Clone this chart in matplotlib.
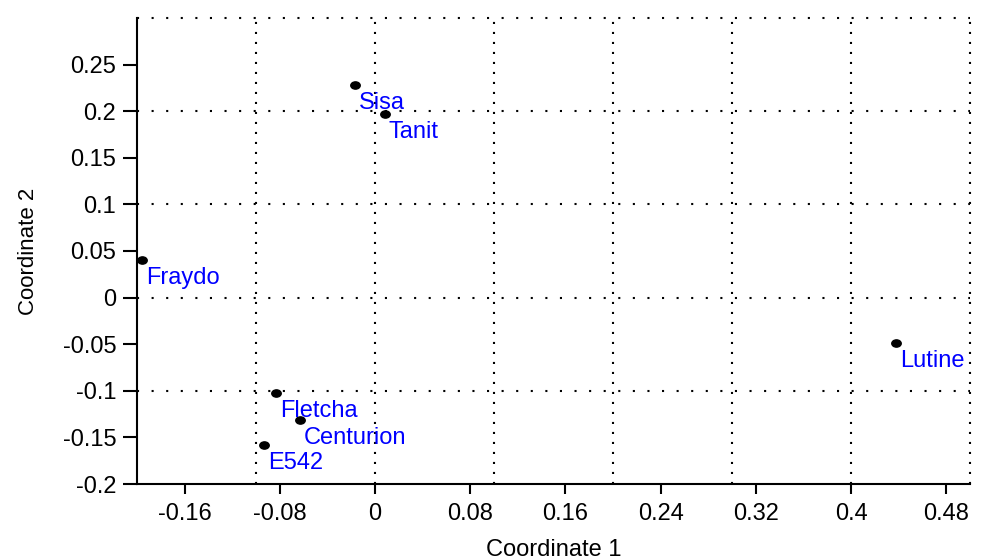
import numpy as np
import matplotlib
matplotlib.use("Agg")
import matplotlib.pyplot as plt
from matplotlib.path import Path
from matplotlib.transforms import Affine2D

plt.rcParams["font.family"] = ["Liberation Sans", "DejaVu Sans"]

# MDS coordinates of the varieties
names = ["Fraydo", "Sisa", "Tanit", "Lutine", "Fletcha", "Centurion", "E542"]
coord1 = [-0.196, -0.017, 0.008, 0.438, -0.083, -0.063, -0.093]
coord2 = [0.040, 0.228, 0.197, -0.049, -0.102, -0.131, -0.158]

xticks = [-0.16, -0.08, 0, 0.08, 0.16, 0.24, 0.32, 0.4, 0.48]
xticklabels = ["-0.16", "-0.08", "0", "0.08", "0.16", "0.24", "0.32", "0.4", "0.48"]
yticks = [-0.2, -0.15, -0.1, -0.05, 0, 0.05, 0.1, 0.15, 0.2, 0.25]
yticklabels = ["-0.2", "-0.15", "-0.1", "-0.05", "0", "0.05", "0.1", "0.15", "0.2", "0.25"]

# grid runs on a 0.1 step, independent of the tick marks
xgrid = [-0.1, 0, 0.1, 0.2, 0.3, 0.4, 0.5]
ygrid = [-0.1, 0, 0.1, 0.2, 0.3]

fig = plt.figure(figsize=(9.81, 5.6), dpi=100)
ax = fig.add_axes([0.1397, 0.1357, 0.8491, 0.8322])
ax.set_xlim(-0.2, 0.5)
ax.set_ylim(-0.2, 0.3)

for gx in xgrid:
    ax.axvline(gx, color="black", lw=1.5, ls=(0, (1, 3.8)), clip_on=False, zorder=1)
for gy in ygrid:
    ax.axhline(gy, color="black", lw=1.5, ls=(0, (1, 6.0)), clip_on=False, zorder=1)

# slightly wide dot
dot = Path.unit_circle().transformed(Affine2D().scale(1.3, 1.0))
ax.plot(coord1, coord2, ls="none", marker=dot, ms=6.8, color="black",
        zorder=3, clip_on=False)

for name, x, y in zip(names, coord1, coord2):
    ax.annotate(name, (x, y), xytext=(3, -5), textcoords="offset points",
                ha="left", va="top", color="#0000ff", fontsize=17, zorder=4)

ax.set_xticks(xticks)
ax.set_xticklabels(xticklabels)
ax.set_yticks(yticks)
ax.set_yticklabels(yticklabels)
ax.tick_params(axis="x", direction="out", length=7, width=1.5, pad=7, labelsize=17)
ax.tick_params(axis="y", direction="out", length=10, width=1.5, pad=5, labelsize=17)

for side in ["top", "right"]:
    ax.spines[side].set_visible(False)
for side in ["left", "bottom"]:
    ax.spines[side].set_linewidth(1.5)

ax.set_xlabel("Coordinate 1", fontsize=17)
ax.set_ylabel("Coordinate 2", fontsize=16)
ax.xaxis.set_label_coords(0.5, -0.118)
ax.yaxis.set_label_coords(-0.118, 0.5)

fig.savefig("out.png", dpi=100)
